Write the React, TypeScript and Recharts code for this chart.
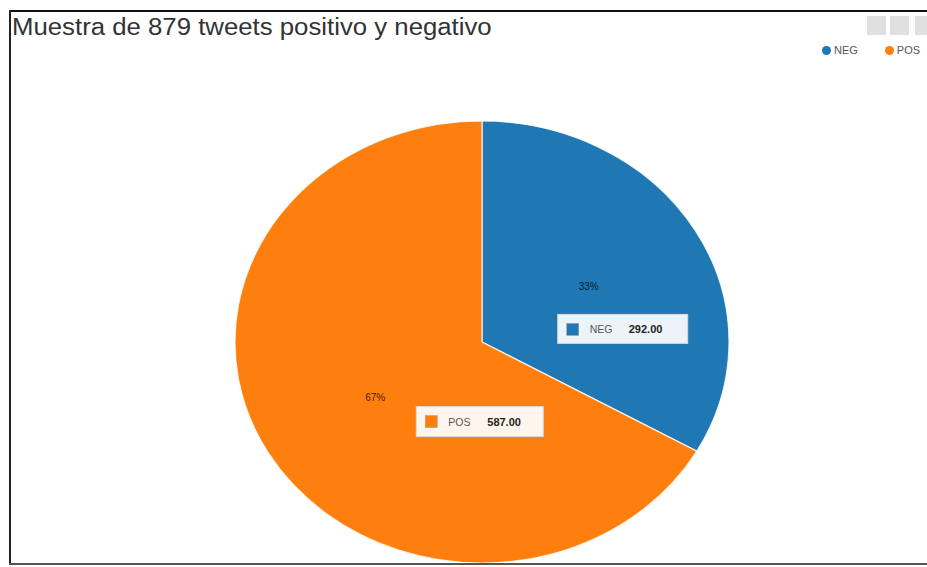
import React from "react";
import { PieChart, Pie, Cell, Legend } from "recharts";

// sample of tweets classified by sentiment
const labels = ["NEG", "POS"];
const counts = [292, 587];
const colors = ["#1f77b4", "#ff7f0e"];

const data = labels.map((name, i) => ({ name, value: counts[i] }));

const RAD = Math.PI / 180;
const X_STRETCH = 247 / 221; // the source pie is slightly wider than tall
const FONT = "'Liberation Sans', Arial, sans-serif";

// where the value boxes sit relative to each percent label
const boxOffsets = [
  { dx: -31, dy: 28, w: 130, h: 29 },
  { dx: 41, dy: 9, w: 127, h: 30 },
];

function EllipseSector(props: any) {
  const { cx, cy, outerRadius, startAngle, endAngle, fill } = props;
  const rx = outerRadius * X_STRETCH;
  const ry = outerRadius;
  const pt = (a: number) => [cx + rx * Math.cos(a * RAD), cy - ry * Math.sin(a * RAD)];
  const [x1, y1] = pt(startAngle);
  const [x2, y2] = pt(endAngle);
  const large = Math.abs(startAngle - endAngle) > 180 ? 1 : 0;
  const sweep = startAngle > endAngle ? 1 : 0;
  const d = `M${cx},${cy} L${x1},${y1} A${rx},${ry} 0 ${large} ${sweep} ${x2},${y2} Z`;
  return <path d={d} fill={fill} stroke="#fff" strokeWidth={1.2} strokeOpacity={0.8} />;
}

function renderLabel(props: any) {
  const { cx, cy, midAngle, outerRadius, percent, index, name, value } = props;
  const lx = cx + 0.5 * outerRadius * X_STRETCH * Math.cos(midAngle * RAD);
  const ly = cy - 0.5 * outerRadius * Math.sin(midAngle * RAD);
  const b = boxOffsets[index];
  const bx = lx + b.dx;
  const by = ly + b.dy;
  return (
    <g>
      <text
        x={lx}
        y={ly}
        textAnchor="middle"
        dominantBaseline="central"
        fontFamily={FONT}
        fontSize={10}
        fill="#000"
        fillOpacity={0.8}
      >
        {`${Math.round(percent * 100)}%`}
      </text>
      <rect x={bx} y={by} width={b.w} height={b.h} fill="#fff" fillOpacity={0.92} stroke="#d8d8d8" />
      <rect x={bx + 9} y={by + 9} width={12} height={12} fill={colors[index]} stroke="#999" strokeWidth={0.5} />
      <text x={bx + 32} y={by + 19} fontFamily={FONT} fontSize={10.5} fill="#555">
        {name}
      </text>
      <text x={bx + 71} y={by + 19} fontFamily={FONT} fontSize={11} fontWeight="bold" fill="#222">
        {Number(value).toFixed(2)}
      </text>
    </g>
  );
}

function LegendContent() {
  return (
    <div style={{ display: "flex", fontFamily: FONT, fontSize: 11, color: "#555", whiteSpace: "nowrap" }}>
      {labels.map((l, i) => (
        <div key={l} style={{ display: "flex", alignItems: "center", marginRight: 27 }}>
          <span
            style={{
              width: 9,
              height: 9,
              borderRadius: "50%",
              background: colors[i],
              display: "inline-block",
              marginRight: 3,
            }}
          />
          {l}
        </div>
      ))}
    </div>
  );
}

export default function App() {
  return (
    <div
      style={{
        position: "absolute",
        left: 0,
        top: 0,
        width: 927,
        height: 567,
        overflow: "hidden",
        background: "#fff",
      }}
    >
      <PieChart width={927} height={567} margin={{ top: 0, right: 0, bottom: 0, left: 0 }}>
        <Pie
          data={data}
          dataKey="value"
          nameKey="name"
          cx={482}
          cy={342}
          outerRadius={221}
          startAngle={90}
          endAngle={-270}
          shape={EllipseSector}
          activeShape={EllipseSector}
          inactiveShape={EllipseSector}
          label={renderLabel}
          labelLine={false}
          isAnimationActive={false}
        >
          {data.map((d, i) => (
            <Cell key={d.name} fill={colors[i]} />
          ))}
        </Pie>
        <Legend
          content={<LegendContent />}
          wrapperStyle={{ position: "absolute", left: 822, top: 44, width: 200 }}
        />
      </PieChart>

      {/* frame */}
      <div style={{ position: "absolute", left: 9, top: 10, width: 918, height: 2, background: "#111" }} />
      <div style={{ position: "absolute", left: 9, top: 10, width: 2, height: 555, background: "#222" }} />
      <div style={{ position: "absolute", left: 9, top: 563, width: 918, height: 2, background: "#555" }} />

      {/* toolbar buttons */}
      {[867, 890, 915].map((x) => (
        <div
          key={x}
          style={{ position: "absolute", left: x, top: 16, width: 19, height: 19, background: "#e0e0e0" }}
        />
      ))}

      <div
        style={{
          position: "absolute",
          left: 12,
          top: 14,
          fontFamily: FONT,
          fontSize: 23,
          color: "#333",
          whiteSpace: "nowrap",
          transform: "scaleX(1.12)",
          transformOrigin: "0 0",
        }}
      >
        Muestra de 879 tweets positivo y negativo
      </div>
    </div>
  );
}
